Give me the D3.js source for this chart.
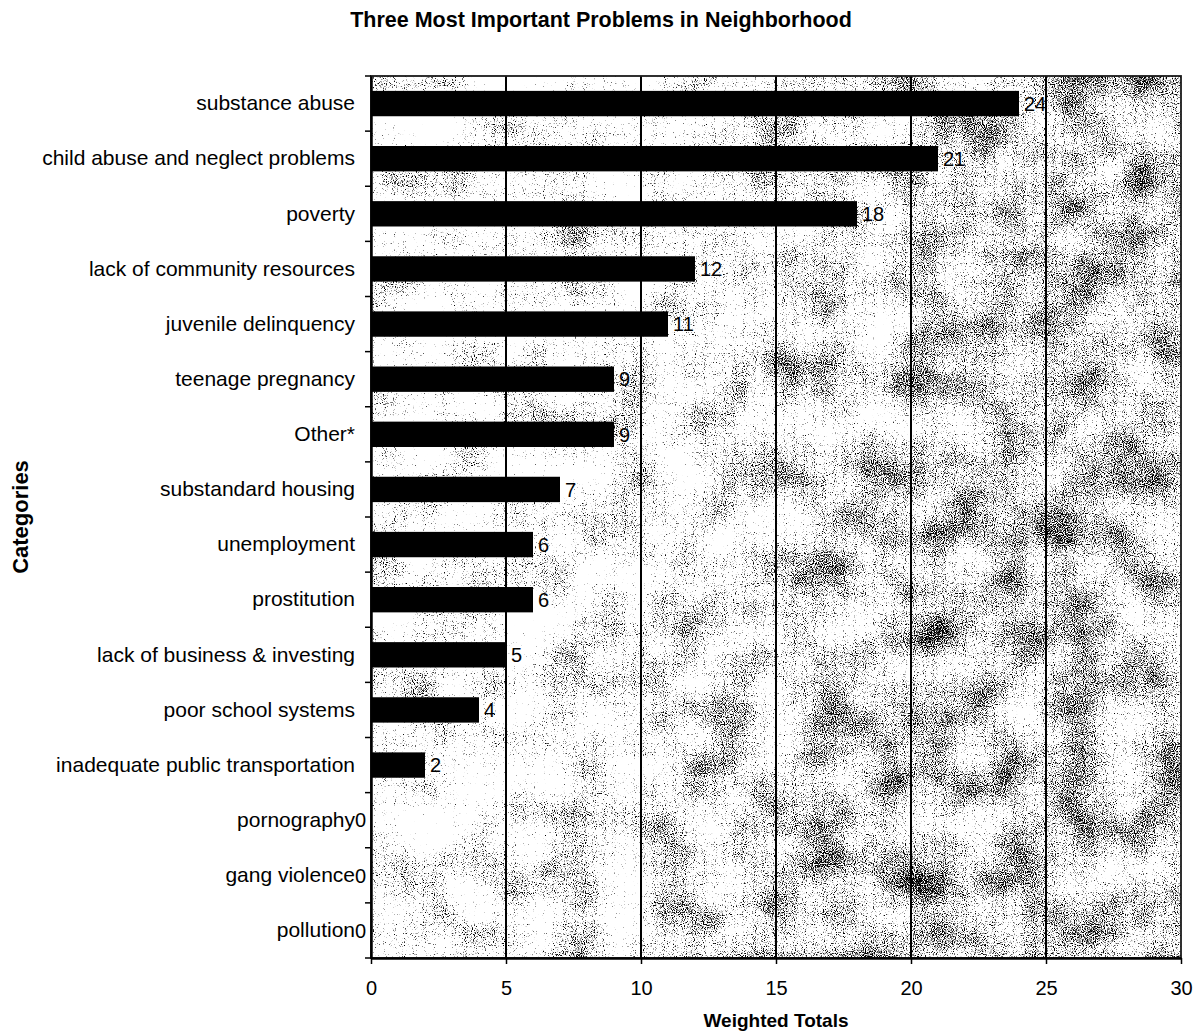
<!DOCTYPE html>
<html>
<head>
<meta charset="utf-8">
<script src="https://cdn.jsdelivr.net/npm/d3@7"></script>
<style>
  html, body { margin: 0; padding: 0; background: #fff; }
  svg { display: block; font-family: Arial, "Liberation Sans", sans-serif; }
</style>
</head>
<body>
<svg id="chart" width="1200" height="1036"></svg>
<script>
// Survey responses: weighted totals per neighborhood problem
const categories = [
  "substance abuse",
  "child abuse and neglect problems",
  "poverty",
  "lack of community resources",
  "juvenile delinquency",
  "teenage pregnancy",
  "Other*",
  "substandard housing",
  "unemployment",
  "prostitution",
  "lack of business & investing",
  "poor school systems",
  "inadequate public transportation",
  "pornography",
  "gang violence",
  "pollution"
];
const values = [24, 21, 18, 12, 11, 9, 9, 7, 6, 6, 5, 4, 2, 0, 0, 0];
const xTicks = [0, 5, 10, 15, 20, 25, 30];

const titleText = "Three Most Important Problems in Neighborhood";
const xTitle = "Weighted Totals";
const yTitle = "Categories";

const FONT = "Arial, 'Liberation Sans', sans-serif";
const svg = d3.select("#chart");
const plot = { left: 371, right: 1181, top: 76, bottom: 958 };

const x = d3.scaleLinear().domain([0, 30]).range([plot.left, plot.right]);
const y = d3.scaleBand().domain(categories)
  .range([plot.top, plot.bottom])
  .paddingInner(0.54).paddingOuter(0.27);

// Grainy plot-area fill: fine speckle with faint clumping, denser to the right
const defs = svg.append("defs");
const grad = defs.append("linearGradient").attr("id", "density")
  .attr("x1", 0).attr("x2", 1).attr("y1", 0).attr("y2", 0.3);
[[0, "#0a0a0a"], [0.35, "#1c1c1c"], [0.6, "#4f4f4f"], [0.82, "#7c7c7c"], [1, "#747474"]]
  .forEach(([o, c]) => grad.append("stop").attr("offset", o).attr("stop-color", c));

const f = defs.append("filter").attr("id", "grain")
  .attr("x", 0).attr("y", 0).attr("width", 1).attr("height", 1)
  .attr("color-interpolation-filters", "sRGB");
const opaque = "1 0 0 0 0  1 0 0 0 0  1 0 0 0 0  0 0 0 0 1";
f.append("feTurbulence").attr("type", "fractalNoise").attr("baseFrequency", 0.9)
  .attr("numOctaves", 1).attr("seed", 4).attr("result", "fineRaw");
f.append("feColorMatrix").attr("in", "fineRaw").attr("type", "matrix")
  .attr("values", opaque).attr("result", "fine");
f.append("feTurbulence").attr("type", "fractalNoise").attr("baseFrequency", 0.02)
  .attr("numOctaves", 4).attr("seed", 11).attr("result", "coarseRaw");
f.append("feColorMatrix").attr("in", "coarseRaw").attr("type", "matrix")
  .attr("values", opaque).attr("result", "coarse");
f.append("feComposite").attr("in", "fine").attr("in2", "coarse").attr("operator", "arithmetic")
  .attr("k1", 0).attr("k2", 1).attr("k3", 0.45).attr("k4", -0.225).attr("result", "mix");
f.append("feComposite").attr("in", "mix").attr("in2", "SourceGraphic").attr("operator", "arithmetic")
  .attr("k1", 0).attr("k2", 1).attr("k3", 0.3).attr("k4", -0.1).attr("result", "dens");
f.append("feColorMatrix").attr("in", "dens").attr("type", "matrix")
  .attr("values", "0 0 0 0 0  0 0 0 0 0  0 0 0 0 0  6 0 0 0 -3.36");

svg.append("rect")
  .attr("x", plot.left).attr("y", plot.top)
  .attr("width", plot.right - plot.left).attr("height", plot.bottom - plot.top)
  .attr("fill", "url(#density)")
  .attr("filter", "url(#grain)");

// Vertical gridlines
svg.append("g").selectAll("line")
  .data(xTicks.filter(t => t > 0 && t < 30))
  .join("line")
  .attr("x1", d => x(d)).attr("x2", d => x(d))
  .attr("y1", plot.top).attr("y2", plot.bottom)
  .attr("stroke", "#000").attr("stroke-width", 2);

// Bars
const rows = categories.map((c, i) => ({ c, v: values[i] }));
svg.append("g").selectAll("rect")
  .data(rows)
  .join("rect")
  .attr("x", x(0))
  .attr("y", d => y(d.c))
  .attr("width", d => x(d.v) - x(0))
  .attr("height", y.bandwidth())
  .attr("fill", "#000");

// Plot frame
svg.append("rect")
  .attr("x", plot.left).attr("y", plot.top)
  .attr("width", plot.right - plot.left).attr("height", plot.bottom - plot.top)
  .attr("fill", "none").attr("stroke", "#1a1a1a").attr("stroke-width", 1.8);

// X axis
const xAxis = d3.axisBottom(x).tickValues(xTicks).tickSizeInner(6).tickSizeOuter(0).tickPadding(17);
const gx = svg.append("g").attr("transform", `translate(0,${plot.bottom})`).call(xAxis);
gx.select(".domain").attr("stroke", "#000").attr("stroke-width", 2.5);
gx.selectAll(".tick line").attr("stroke", "#000").attr("stroke-width", 1.5);
gx.selectAll("text").attr("font-size", 20).attr("fill", "#000").attr("font-family", FONT);

// Y axis: category labels, with ticks on band boundaries
const yAxis = d3.axisLeft(y).tickSize(0).tickPadding(16);
const gy = svg.append("g").attr("transform", `translate(${plot.left},0)`).call(yAxis);
gy.select(".domain").attr("stroke", "#000").attr("stroke-width", 2.5);
gy.selectAll("text").attr("font-size", 21).attr("fill", "#000").attr("font-family", FONT);

const bounds = categories.map(c => y(c) - y.step() * y.paddingInner() / 2);
bounds.push(plot.bottom);
svg.append("g").selectAll("line").data(bounds).join("line")
  .attr("x1", plot.left - 6).attr("x2", plot.left)
  .attr("y1", d => d).attr("y2", d => d)
  .attr("stroke", "#000").attr("stroke-width", 1.5);

// Value labels (zero values sit just left of the axis)
svg.append("g").selectAll("text")
  .data(rows)
  .join("text")
  .attr("x", d => d.v > 0 ? x(d.v) + 5 : x(0) - 16)
  .attr("y", d => y(d.c) + y.bandwidth() / 2)
  .attr("dy", "0.36em")
  .attr("font-size", 20)
  .text(d => d.v);

// Titles
svg.append("text")
  .attr("x", 601).attr("y", 27)
  .attr("text-anchor", "middle")
  .attr("font-size", 21.5).attr("font-weight", "bold")
  .text(titleText);

svg.append("text")
  .attr("x", (plot.left + plot.right) / 2).attr("y", 1027)
  .attr("text-anchor", "middle")
  .attr("font-size", 19).attr("font-weight", "bold")
  .text(xTitle);

svg.append("text")
  .attr("transform", `translate(28,${(plot.top + plot.bottom) / 2}) rotate(-90)`)
  .attr("text-anchor", "middle")
  .attr("font-size", 22).attr("font-weight", "bold")
  .text(yTitle);
</script>
</body>
</html>
